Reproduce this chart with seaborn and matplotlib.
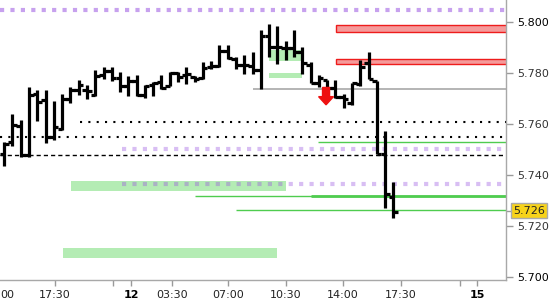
import numpy as np
import matplotlib
matplotlib.use("Agg")
import matplotlib.pyplot as plt
import matplotlib.transforms as mtransforms
from matplotlib.patches import Rectangle, FancyArrow
import seaborn as sns

sns.set_theme(style="white")
plt.rcParams['font.family'] = ['DejaVu Sans']

# ---------------- OHLC data (30-min bars) ----------------
opens = [5.7482, 5.7529, 5.7592, 5.7478, 5.7718, 5.7694, 5.7549, 5.7580, 5.7698, 5.7733,
         5.7733, 5.7714, 5.7792, 5.7808, 5.7780, 5.7749, 5.7769, 5.7714, 5.7753, 5.7765,
         5.7749, 5.7800, 5.7792, 5.7784, 5.7780, 5.7824, 5.7827, 5.7886, 5.7855, 5.7831,
         5.7827, 5.7812, 5.7945, 5.7902, 5.7898, 5.7898, 5.7882, 5.7831, 5.7761, 5.7773,
         5.7741, 5.7706, 5.7682, 5.7757, 5.7839, 5.7769, 5.7482, 5.7314]
highs = [5.7529, 5.7639, 5.7616, 5.7745, 5.7733, 5.7733, 5.7690, 5.7718, 5.7745, 5.7773,
         5.7753, 5.7812, 5.7824, 5.7824, 5.7804, 5.7788, 5.7792, 5.7753, 5.7765, 5.7792,
         5.7804, 5.7804, 5.7824, 5.7788, 5.7843, 5.7847, 5.7910, 5.7910, 5.7863, 5.7871,
         5.7882, 5.7969, 5.7992, 5.7984, 5.7925, 5.7969, 5.7902, 5.7843, 5.7792, 5.7773,
         5.7773, 5.7718, 5.7761, 5.7851, 5.7882, 5.7769, 5.7573, 5.7373]
lows = [5.7435, 5.7514, 5.7471, 5.7471, 5.7612, 5.7525, 5.7537, 5.7576, 5.7682, 5.7714,
        5.7698, 5.7710, 5.7776, 5.7769, 5.7725, 5.7710, 5.7710, 5.7702, 5.7710, 5.7737,
        5.7749, 5.7765, 5.7757, 5.7765, 5.7776, 5.7816, 5.7824, 5.7855, 5.7816, 5.7796,
        5.7796, 5.7737, 5.7863, 5.7835, 5.7851, 5.7863, 5.7796, 5.7761, 5.7745, 5.7733,
        5.7702, 5.7663, 5.7675, 5.7749, 5.7776, 5.7482, 5.7271, 5.7231]
closes = [5.7522, 5.7596, 5.7478, 5.7714, 5.7686, 5.7549, 5.7588, 5.7698, 5.7733, 5.7753,
          5.7729, 5.7788, 5.7808, 5.7780, 5.7749, 5.7769, 5.7714, 5.7749, 5.7761, 5.7741,
          5.7800, 5.7784, 5.7796, 5.7776, 5.7820, 5.7827, 5.7886, 5.7859, 5.7831, 5.7831,
          5.7812, 5.7945, 5.7902, 5.7902, 5.7898, 5.7882, 5.7839, 5.7761, 5.7780, 5.7741,
          5.7706, 5.7698, 5.7761, 5.7824, 5.7776, 5.7482, 5.7325, 5.7255]
bar_slot = np.arange(len(opens)) + 0.5

# ---------------- axis ----------------
x_max = 61.1
y_min, y_max = 5.6988, 5.8086
tick_pos = [6.64, 13.65, 15.82, 20.77, 27.54, 34.54, 41.43, 48.43, 55.56, 57.6]
tick_labels = ["17:30", "", "12", "03:30", "07:00", "10:30", "14:00", "17:30", "", "15"]
bold_labels = ["12", "15"]
edge_label = "00"
y_ticks = [5.700, 5.720, 5.740, 5.760, 5.780, 5.800]
y_tick_labels = ["5.700", "5.720", "5.740", "5.760", "5.780", "5.800"]
last_price, last_label = 5.726, "5.726"

# ---------------- levels ----------------
purple_prices = [5.8047, 5.7502, 5.7365]
purple_starts = [0.0, 14.73, 14.73]
purple_alphas = [0.55, 0.38, 0.38]
bdot_prices = [5.7608, 5.7549]
bdot_starts = [9.66, 0.0]
bdash_prices = [5.7478]
bdash_starts = [0.0]
gline_prices = [5.7529, 5.7318, 5.7318, 5.7263]
gline_starts = [38.4, 23.55, 37.56, 28.5]
gline_widths = [1.0, 1.0, 2.0, 1.0]
gray_prices = [5.7737]
gray_starts = [30.56]
red_lows = [5.7962, 5.7834]
red_highs = [5.7988, 5.7856]
red_starts = [40.58, 40.58]
gz_lows = [5.7848, 5.7782, 5.7338, 5.7076]
gz_highs = [5.7888, 5.7800, 5.7376, 5.7114]
gz_starts = [32.49, 32.49, 8.57, 7.61]
gz_ends = [36.47, 36.47, 34.54, 33.45]
arrow_slot, arrow_top, arrow_tip = 39.37, 5.7743, 5.7675

fig = plt.figure(figsize=(5.5, 3.0), dpi=100)
ax = fig.add_axes([0, 20 / 300, 506 / 550, 280 / 300])
ax.set_xlim(0, x_max)
ax.set_ylim(y_min, y_max)

# zones
for lo, hi, s, e in zip(gz_lows, gz_highs, gz_starts, gz_ends):
    ax.add_patch(Rectangle((s, lo), e - s, hi - lo, facecolor="#b4ecb4",
                           edgecolor="none", zorder=1))
for lo, hi, s in zip(red_lows, red_highs, red_starts):
    ax.add_patch(Rectangle((s, lo), x_max - s + 1, hi - lo, facecolor="#f59a9a",
                           edgecolor="#ee1c1c", lw=1.0, zorder=1))

# level lines
for p, s, a in zip(purple_prices, purple_starts, purple_alphas):
    ax.hlines(p, s, x_max, colors="#9a55e0", alpha=a, lw=3.0,
              linestyles=(0, (1, 1.5)), zorder=2)
for p, s in zip(bdot_prices, bdot_starts):
    ax.hlines(p, s, x_max, colors="black", lw=1.5, linestyles=(0, (1, 3)), zorder=2)
for p, s in zip(bdash_prices, bdash_starts):
    ax.hlines(p, s, x_max, colors="black", lw=1.0, linestyles=(0, (3, 2.2)), zorder=2)
for p, s, w in zip(gline_prices, gline_starts, gline_widths):
    ax.hlines(p, s, x_max, colors="#4fcc4f", lw=w, zorder=2)
for p, s in zip(gray_prices, gray_starts):
    ax.hlines(p, s, x_max, colors="#a8a8a8", lw=1.2, zorder=2)

# OHLC bars
ax.vlines(bar_slot, lows, highs, colors="black", lw=2.3, zorder=4)
ax.hlines(opens, bar_slot - 0.55, bar_slot, colors="black", lw=2.3, zorder=4)
ax.hlines(closes, bar_slot, bar_slot + 0.55, colors="black", lw=2.3, zorder=4)

# red arrow
ax.add_patch(FancyArrow(arrow_slot, arrow_top, 0, arrow_tip - arrow_top,
                        width=0.85, head_width=1.8, head_length=0.0032,
                        length_includes_head=True, color="#ee1111", zorder=5))

# axes styling
sns.despine(ax=ax, left=True, top=True, right=False, bottom=False)
for side in ["right", "bottom"]:
    ax.spines[side].set_color("#a8a8a8")
    ax.spines[side].set_linewidth(1.0)
ax.yaxis.tick_right()
ax.set_yticks(y_ticks)
ax.set_yticklabels(y_tick_labels)
ax.set_yticks([last_price], minor=True)
ax.set_xticks(tick_pos)
ax.set_xticklabels(tick_labels)
ax.tick_params(axis="y", which="both", direction="out", length=5, color="#9a9a9a",
               width=1, labelsize=8, pad=3, labelcolor="#333333", right=True, left=False)
ax.tick_params(axis="x", direction="out", length=4, color="#9a9a9a", width=1,
               labelsize=8, pad=3, labelcolor="#222222", bottom=True)
for lab in ax.get_xticklabels():
    if lab.get_text() in bold_labels:
        lab.set_fontweight("bold")
        lab.set_color("black")
for lab in ax.get_yticklabels():
    if lab.get_text() in ("5.800", "5.700"):
        lab.set_color("black")
ax.grid(False)

# tail of a label at the left edge, aligned with the tick labels
edge_offset = mtransforms.offset_copy(ax.transAxes, fig=fig, x=0, y=-(4 + 3) , units="points")
ax.text(0.0, 0.0, edge_label, transform=edge_offset, ha="left",
        va="top", fontsize=8, color="#222222", clip_on=False)

# last price marker
trans_y = mtransforms.blended_transform_factory(ax.transAxes, ax.transData)
ax.text(1.014, last_price, last_label, transform=trans_y, ha="left", va="center",
        fontsize=8, color="#222222", clip_on=False, zorder=10,
        bbox=dict(boxstyle="square,pad=0.2", facecolor="#f7d31a", edgecolor="#aaaaaa", lw=1))

fig.savefig("out.png", dpi=100)
